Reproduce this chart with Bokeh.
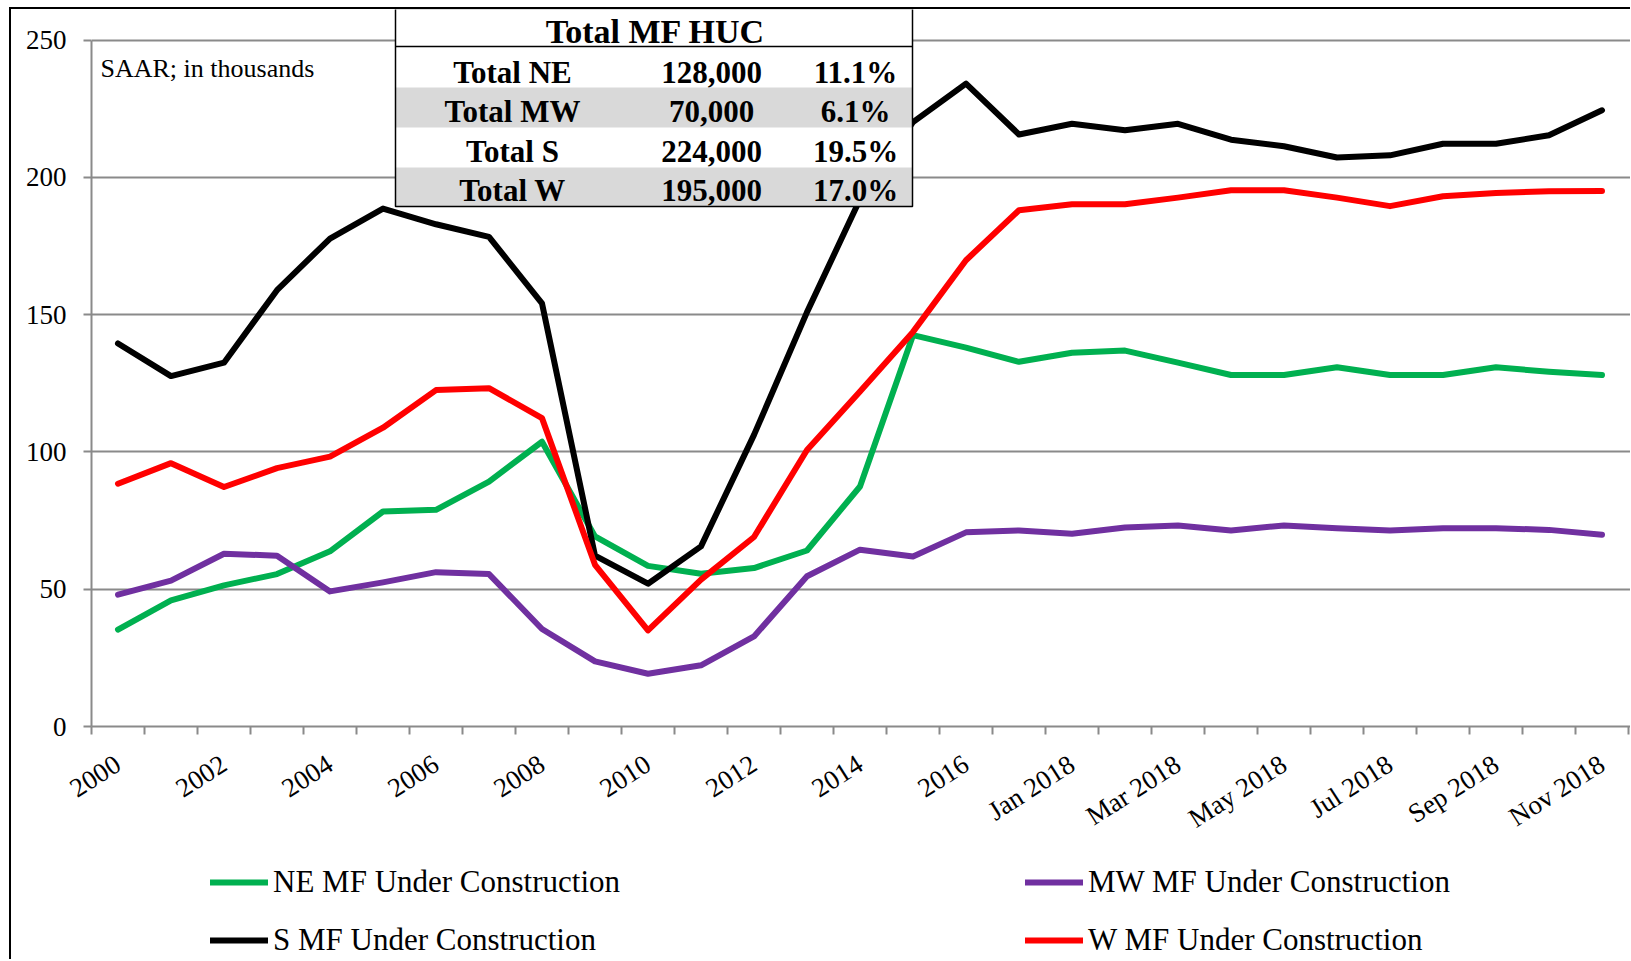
from bokeh.plotting import figure
from bokeh.layouts import column
from bokeh.models import Range1d, FixedTicker, Legend, LegendItem
from bokeh.core.properties import value
from bokeh.embed import file_html
from bokeh.resources import INLINE

# ---------------- data ----------------
categories = ["2000", "2001", "2002", "2003", "2004", "2005", "2006", "2007", "2008",
              "2009", "2010", "2011", "2012", "2013", "2014", "2015", "2016",
              "Dec 2017", "Jan 2018", "Feb 2018", "Mar 2018", "Apr 2018", "May 2018",
              "Jun 2018", "Jul 2018", "Aug 2018", "Sep 2018", "Oct 2018", "Nov 2018"]

ne = [35.3, 45.9, 51.4, 55.5, 63.8, 78.3, 78.9, 89.2, 103.7,
      69.2, 58.5, 55.6, 57.7, 64.1, 87.4, 142.5, 138.0,
      132.8, 136.1, 136.9, 132.5, 128.0, 128.0, 130.8, 128.0, 128.0, 130.8, 129.2, 128.0]
mw = [48.0, 53.1, 62.9, 62.2, 49.2, 52.5, 56.2, 55.5, 35.5,
      23.7, 19.2, 22.3, 32.8, 54.7, 64.4, 61.9, 70.7,
      71.4, 70.2, 72.5, 73.2, 71.4, 73.2, 72.2, 71.4, 72.2, 72.2, 71.6, 69.8]
s = [139.5, 127.6, 132.5, 158.9, 177.7, 188.6, 182.9, 178.3, 154.1,
     62.2, 52.0, 65.6, 106.2, 150.9, 192.0, 220.1, 234.1,
     215.6, 219.5, 217.1, 219.5, 213.7, 211.3, 207.2, 208.0, 212.2, 212.2, 215.3, 224.4]
w = [88.4, 95.9, 87.2, 94.1, 98.3, 108.8, 122.5, 123.2, 112.3,
     58.9, 35.0, 53.5, 69.0, 100.7, 122.0, 143.7, 169.8,
     188.0, 190.2, 190.2, 192.6, 195.3, 195.3, 192.6, 189.5, 193.1, 194.3, 194.9, 195.0]

series_labels = ["NE MF Under Construction", "MW MF Under Construction",
                 "S MF Under Construction", "W MF Under Construction"]
series_colors = ["#00b050", "#7030a0", "#000000", "#ff0000"]

y_ticks = [0, 50, 100, 150, 200, 250]
note_text = "SAAR; in thousands"

table_title = "Total MF HUC"
table_regions = ["Total NE", "Total MW", "Total S", "Total W"]
table_units = ["128,000", "70,000", "224,000", "195,000"]
table_shares = ["11.1%", "6.1%", "19.5%", "17.0%"]

# ---------------- geometry (page pixels) ----------------
FONT = "Liberation Serif"
W = 1619
OX, OY = 11, 9           # page position of the canvas (margin + border)
FL, FB = 91, 726         # page x of frame left, page y of value 0
CAT = 53.0               # px per category
PXU = 2.746              # px per unit (thousands)
AXIS_PANEL = 132         # room below the frame for the category labels

left_border = FL - OX
frame_bottom = FB - OY
H1 = frame_bottom + AXIS_PANEL
H2 = 959 - (OY + H1)     # legend strip

def X(px):
    return -0.5 + (px - FL) / CAT

def Y(py):
    return (FB - py) / PXU

idx = list(range(len(categories)))

p = figure(width=W, height=H1, output_backend="svg", toolbar_location=None,
           x_range=Range1d(-0.5, -0.5 + (W - left_border) / CAT),
           y_range=Range1d(0, frame_bottom / PXU),
           min_border_left=left_border, min_border_right=0,
           min_border_top=0, min_border_bottom=AXIS_PANEL,
           background_fill_color="white", border_fill_color="white",
           outline_line_color=None)

GRAY = "#8a8a8a"

# y axis
p.yaxis.ticker = FixedTicker(ticks=y_ticks)
p.yaxis.bounds = (0, 250)
p.yaxis.axis_line_color = GRAY
p.yaxis.axis_line_width = 2
p.yaxis.major_tick_line_color = GRAY
p.yaxis.major_tick_line_width = 2
p.yaxis.major_tick_out = 8
p.yaxis.major_tick_in = 0
p.yaxis.minor_tick_line_color = None
p.yaxis.major_label_text_font = FONT
p.yaxis.major_label_text_font_size = "27px"
p.yaxis.major_label_text_color = "black"
p.yaxis.major_label_standoff = 17

# x axis
major = [i for i in idx if i % 2 == 0]
p.xaxis.ticker = FixedTicker(ticks=major, minor_ticks=[i - 0.5 for i in range(len(categories) + 1)])
p.xaxis.major_label_overrides = {i: categories[i] for i in major}
p.xaxis.axis_line_color = GRAY
p.xaxis.axis_line_width = 2
p.xaxis.major_tick_line_color = None
p.xaxis.major_tick_out = 0
p.xaxis.major_tick_in = 0
p.xaxis.minor_tick_line_color = GRAY
p.xaxis.minor_tick_line_width = 2
p.xaxis.minor_tick_out = 8
p.xaxis.minor_tick_in = 0
p.xaxis.major_label_orientation = 0.57
p.xaxis.major_label_text_font = FONT
p.xaxis.major_label_text_font_size = "27px"
p.xaxis.major_label_text_color = "black"
p.xaxis.major_label_standoff = 27

p.xgrid.grid_line_color = None
p.ygrid.ticker = FixedTicker(ticks=y_ticks)
p.ygrid.grid_line_color = GRAY
p.ygrid.grid_line_width = 2

# series
for ys, col in zip([ne, mw, s, w], series_colors):
    p.line(idx, ys, line_color=col, line_width=6, line_cap="round", line_join="round")

# note
p.text([X(100)], [Y(68)], text=[note_text], text_font=value(FONT), text_font_size="26px",
       text_align="left", text_baseline="middle", text_color="black")

# table
tl, tr, tt, tb = X(395), X(912), Y(8), Y(206)
p.quad(left=[tl], right=[tr], top=[tt], bottom=[tb], fill_color="white", line_color=None)
p.quad(left=[tl, tl], right=[tr, tr], top=[Y(87), Y(167)], bottom=[Y(127), Y(206)],
       fill_color="#d9d9d9", line_color=None)
p.quad(left=[tl], right=[tr], top=[tt], bottom=[tb], fill_color=None,
       line_color="black", line_width=1.5)
p.segment(x0=[tl], y0=[Y(46)], x1=[tr], y1=[Y(46)], line_color="black", line_width=1.5)
p.text([X(655)], [Y(31)], text=[table_title], text_font=value(FONT), text_font_size="34px",
       text_font_style="bold", text_align="center", text_baseline="middle", text_color="black")
row_y = [Y(v) for v in (72, 111, 151, 190)]
for col_x, col_text in ((512, table_regions), (711, table_units), (855, table_shares)):
    p.text([X(col_x)] * 4, row_y, text=col_text, text_font=value(FONT), text_font_size="31px",
           text_font_style="bold", text_align="center", text_baseline="middle", text_color="black")

# legend strip (a second figure whose frame is aligned with the chart frame)
p2 = figure(width=W, height=H2, output_backend="svg", toolbar_location=None,
            x_range=Range1d(0, 1), y_range=Range1d(0, 1),
            x_axis_type=None, y_axis_type=None,
            min_border=0, outline_line_color=None,
            background_fill_color="white", border_fill_color="white")
p2.xgrid.grid_line_color = None
p2.ygrid.grid_line_color = None
nan = float("nan")
legend_renderers = [p2.line([nan], [nan], line_color=col, line_width=6, line_cap="round")
                    for col in series_colors]
items = [LegendItem(label=lab, renderers=[r]) for lab, r in zip(series_labels, legend_renderers)]
legend = Legend(items=items, orientation="horizontal", ncols=2,
                location=(210 - FL, 0),
                padding=0, margin=0, border_line_color=None, background_fill_alpha=0,
                glyph_width=58, glyph_height=38, label_height=38, label_standoff=5,
                label_width=732, spacing=20,
                label_text_font=FONT, label_text_font_size="31px", label_text_color="black")
p2.add_layout(legend, "center")

layout = column(p, p2, spacing=0,
                styles={"margin-left": "9px", "margin-top": "7px",
                        "border-left": "2px solid black", "border-top": "2px solid black"})

html = file_html(layout, INLINE)
html = html.replace("<body>", '<body style="background-color:#e9e9e9;">', 1)
open("out.html", "w").write(html)
